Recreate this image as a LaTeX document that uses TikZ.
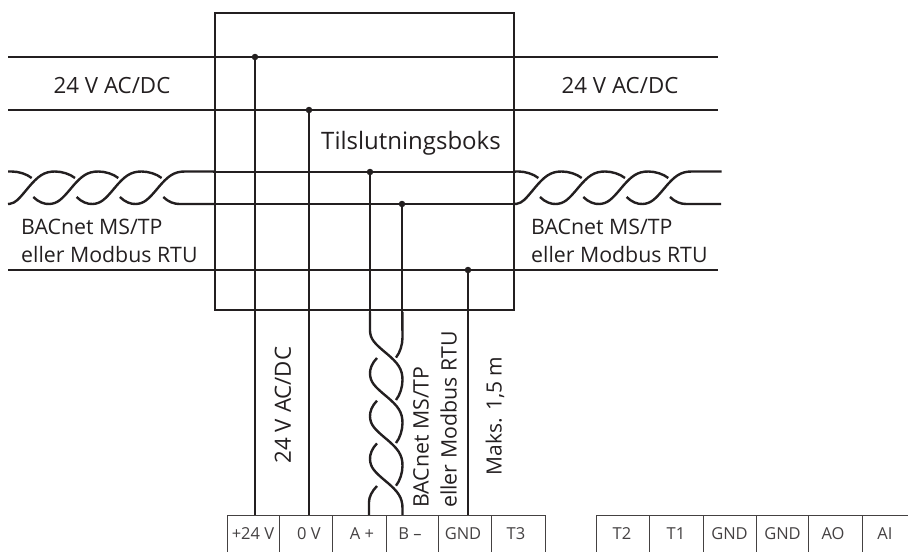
\documentclass[tikz,border=0pt]{standalone}
\usepackage{fontspec}
\setmainfont{Open Sans}
\definecolor{ink}{HTML}{231F20}
\newcommand{\strandpath}{(0,7) .. controls (5,2) and (11,-0.3) .. (16,0) .. controls (24,0.5) and (28,4) .. (38,16) .. controls (48,28) and (54,32.5) .. (65,32.5) .. controls (72,32.5) and (80,30) .. (85,26)}
\newcommand{\risepath}{(0,7) .. controls (5,2) and (11,-0.3) .. (16,0) .. controls (24,0.5) and (28,4) .. (38,16) .. controls (48,28) and (54,32.5) .. (65,32.5)}
\newcommand{\hbraid}[1]{%
  \begin{scope}[shift={(#1,204)},x={(1pt,0pt)},y={(0pt,1pt)}]
    \foreach \t in {0,43.3} {\begin{scope}[xshift=\t pt]\draw[strand] \strandpath;\end{scope}}
    \begin{scope}[xshift=-43.3pt]\draw[strand] (18,0) -- (20,0.2) .. controls (26,1.5) and (28,4) .. (38,16) .. controls (48,28) and (54,32.5) .. (65,32.5) .. controls (72,32.5) and (80,30) .. (85,26);\end{scope}
    \begin{scope}[xshift=86.6pt]\draw[strand] \risepath -- (95,32.5);\end{scope}
    \begin{scope}[xshift=130pt]\draw[strand] (0,7) .. controls (5,2) and (11,0) .. (16,0) -- (51,0);\end{scope}
    \draw[strand] (-25.3,32.5) -- (-21.6,32.5) .. controls (-14.6,32.5) and (-6.6,30) .. (-1.6,26);
  \end{scope}}
\tikzset{
  wire/.style={draw=ink,line width=2pt},
  strand/.style={draw=ink,line width=2.4pt},
  thin rule/.style={draw=ink!85,line width=1pt},
  dotmark/.style={circle,fill=ink,inner sep=0pt,minimum size=6.5pt},
  biglabel/.style={text=ink,font=\fontsize{22.3}{26}\selectfont,inner sep=0pt},
  label2/.style={text=ink,font=\fontsize{21.3}{28}\selectfont,inner sep=0pt,align=left},
  termlabel/.style={text=ink!85,font=\fontsize{16.5}{20}\selectfont,inner sep=0pt}
}
\begin{document}
\begin{tikzpicture}[x=1pt,y=-1pt]
\useasboundingbox (0,0) rectangle (908,552);
\node[draw=ink,line width=2pt,minimum width=299pt,minimum height=297pt,inner sep=0pt,outer sep=0pt] (box) at (364.5,161.5) {};
\node[dotmark] (j1) at (255,57) {};
\node[dotmark] (j2) at (309,110) {};
\node[dotmark] (j3) at (370,172) {};
\node[dotmark] (j4) at (402,204) {};
\node[dotmark] (j5) at (468,270) {};
\coordinate (l1) at (8,57); \coordinate (r1) at (718,57);
\coordinate (l2) at (8,110); \coordinate (r2) at (718,110);
\coordinate (l5) at (8,270); \coordinate (r5) at (718,270);
\coordinate (a3) at (213,172); \coordinate (b3) at (516,172);
\coordinate (a4) at (213,204); \coordinate (b4) at (516,204);
\draw[wire] (l1) -- (j1) -- (r1);
\draw[wire] (l2) -- (j2) -- (r2);
\draw[wire] (l5) -- (j5) -- (r5);
\draw[wire] (a3) -- (j3) -- (b3);
\draw[wire] (a4) -- (j4) -- (b4);
\coordinate (t1) at (255,515);
\coordinate (t2) at (309,515);
\coordinate (t5) at (468,515);
\coordinate (t3) at (370,312);
\coordinate (t4) at (402,312);
\draw[wire] (j1) -- (t1);
\draw[wire] (j2) -- (t2);
\draw[wire] (j5) -- (t5);
\draw[wire] (j3) -- (t3);
\draw[wire] (j4) -- (t4);
\foreach \y in {358,400.7} {
  \begin{scope}[shift={(370,\y)},x={(0pt,-1pt)},y={(1pt,0pt)}]
    \draw[strand] \strandpath;
  \end{scope}
}
\begin{scope}[shift={(370,315)},x={(0pt,-1pt)},y={(1pt,0pt)}]
  \draw[strand] (-3,0) -- (16,0) .. controls (24,0.5) and (28,4) .. (38,16) .. controls (48,28) and (54,32.5) .. (65,32.5) .. controls (72,32.5) and (80,30) .. (85,26);
\end{scope}
\begin{scope}[shift={(370,272.6)},x={(0pt,-1pt)},y={(1pt,0pt)}]
  \draw[strand] (39.4,32.3) -- (65,32.5) .. controls (72,32.5) and (80,30) .. (85,26);
\end{scope}
\begin{scope}[shift={(370,443.4)},x={(0pt,-1pt)},y={(1pt,0pt)}]
  \draw[strand] \risepath -- (71.6,32.5);
\end{scope}
\begin{scope}[shift={(370,486)},x={(0pt,-1pt)},y={(1pt,0pt)}]
  \draw[strand] (0,7) .. controls (5,2) and (11,-1) .. (16,-1) -- (29,-1);
\end{scope}
\hbraid{33.3}
\hbraid{540}
\coordinate (ta) at (227,515); \coordinate (tz) at (545,515);
\coordinate (tc) at (596.7,515); \coordinate (td) at (908,515);
\draw[thin rule] (ta) -- (tz);
\draw[thin rule] (tc) -- (td);
\foreach \x in {227,279,332.5,386,438.5,491.7,545,596.7,649.3,703,756.5,808.7,862}
  \draw[thin rule] (\x,515) -- (\x,552);
\foreach \x/\t in {253/{+24 V},309/{0 V},362/{A +},410/{B –},463/GND,516/T3,622/T2,676/T1,729.5/GND,782.5/GND,833/AO,885/AI}
  \node[termlabel] at (\x,534) {\t};
\node[biglabel] (v1) at (112,86) {24 V AC/DC};
\node[biglabel] (v2) at (620,86) {24 V AC/DC};
\node[biglabel,font=\fontsize{24}{28}\selectfont] (tbx) at (411,143) {Tilslutningsboks};
\node[label2,anchor=north west] (bl) at (21,219) {BACnet MS/TP\\eller Modbus RTU};
\node[label2,anchor=north west] (br) at (531,219) {BACnet MS/TP\\eller Modbus RTU};
\node[biglabel,rotate=90] (v3) at (283,405) {24 V AC/DC};
\node[label2,rotate=90,anchor=north west] (bv) at (413,508) {BACnet MS/TP\\eller Modbus RTU};
\node[biglabel,rotate=90,font=\fontsize{21}{26}\selectfont] (mk) at (495,416) {Maks. 1,5 m};
\end{tikzpicture}
\end{document}
